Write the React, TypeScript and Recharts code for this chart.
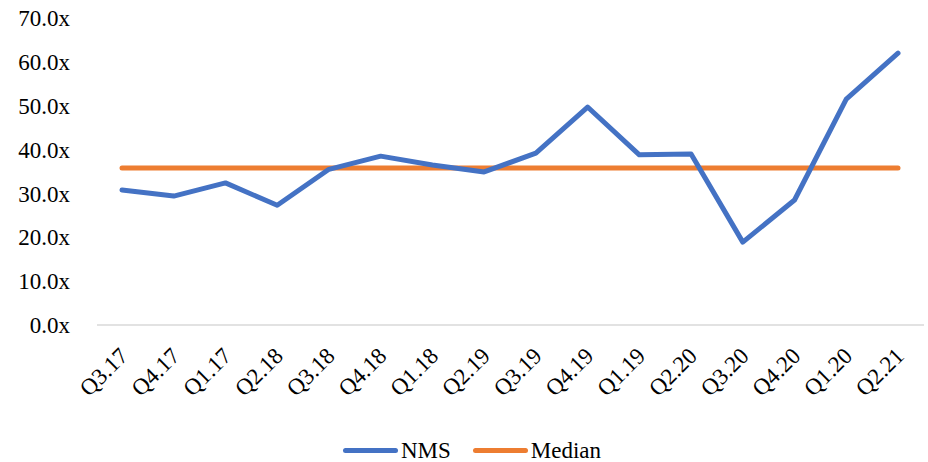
import { LineChart, Line, XAxis, YAxis, Legend } from "recharts";

const quarters = [
  "Q3.17", "Q4.17", "Q1.17", "Q2.18", "Q3.18", "Q4.18", "Q1.18", "Q2.19",
  "Q3.19", "Q4.19", "Q1.19", "Q2.20", "Q3.20", "Q4.20", "Q1.20", "Q2.21",
];
const nms = [30.8, 29.4, 32.4, 27.3, 35.5, 38.5, 36.5, 34.9, 39.2, 49.7, 38.8, 39.0, 18.9, 28.5, 51.5, 62.0];
const median = 35.8;
const yTicks = [0, 10, 20, 30, 40, 50, 60, 70];

const data = quarters.map((q, i) => ({ q, nms: nms[i], median }));

const FONT = "'Liberation Serif', serif";

const XTick = (props: any) => {
  const { x, y, payload } = props;
  const ax = x + 2;
  const ay = y + 19;
  return (
    <text
      x={ax}
      y={ay}
      transform={`rotate(-45, ${ax}, ${ay})`}
      textAnchor="end"
      dominantBaseline="central"
      fontFamily={FONT}
      fontSize={23}
      fill="#000"
    >
      {payload.value}
    </text>
  );
};

const LegendBox = () => (
  <div
    style={{
      height: 37,
      boxSizing: "border-box",
      paddingTop: 14,
      display: "flex",
      justifyContent: "center",
      alignItems: "center",
      fontFamily: FONT,
      fontSize: 23,
      color: "#000",
      paddingLeft: 20,
    }}
  >
    <span style={{ display: "inline-block", width: 55, height: 5, borderRadius: 3, background: "#4472c4", marginRight: 3 }} />
    <span style={{ marginRight: 22 }}>NMS</span>
    <span style={{ display: "inline-block", width: 55, height: 5, borderRadius: 3, background: "#ed7d31", marginRight: 3 }} />
    <span>Median</span>
  </div>
);

export default function App() {
  return (
    <div style={{ position: "absolute", left: 0, top: 0, background: "#fff" }}>
      <LineChart
        width={928}
        height={462}
        data={data}
        margin={{ top: 18, right: 4, left: 0, bottom: 0 }}
      >
        <XAxis
          dataKey="q"
          height={100}
          interval={0}
          padding={{ left: 25, right: 26 }}
          tickLine={false}
          axisLine={{ stroke: "#d9d9d9", strokeWidth: 1.5 }}
          tick={<XTick />}
        />
        <YAxis
          width={97}
          domain={[0, 70]}
          ticks={yTicks}
          axisLine={false}
          tickLine={false}
          tickMargin={21}
          tickFormatter={(v: number) => `${v.toFixed(1)}x`}
          tick={{ fontFamily: FONT, fontSize: 23, fill: "#000" }}
        />
        <Legend verticalAlign="bottom" content={<LegendBox />} />
        <Line
          dataKey="median"
          stroke="#ed7d31"
          strokeWidth={5}
          dot={false}
          strokeLinecap="round"
          isAnimationActive={false}
        />
        <Line
          dataKey="nms"
          stroke="#4472c4"
          strokeWidth={5}
          dot={false}
          strokeLinecap="round"
          strokeLinejoin="round"
          isAnimationActive={false}
        />
      </LineChart>
    </div>
  );
}
